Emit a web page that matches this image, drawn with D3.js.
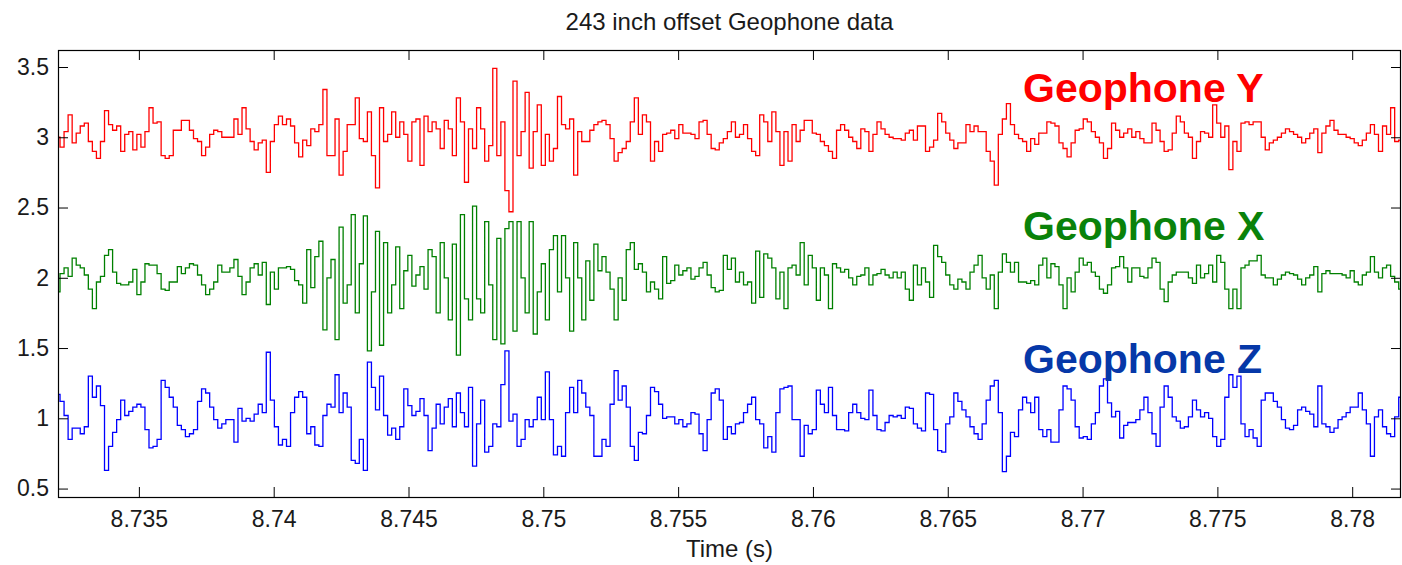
<!DOCTYPE html>
<html>
<head>
<meta charset="utf-8">
<script src="https://cdn.jsdelivr.net/npm/d3@7"></script>
<style>
  html, body { margin: 0; padding: 0; background: #ffffff; }
  svg { display: block; }
  text { font-family: "Liberation Sans", Arial, sans-serif; }
</style>
</head>
<body>
<svg id="chart" width="1402" height="565"></svg>
<script>
// ---------------- data ----------------
const chartTitle = "243 inch offset Geophone data";
const xAxisLabel = "Time (s)";
const xTickValues = [8.735, 8.74, 8.745, 8.75, 8.755, 8.76, 8.765, 8.77, 8.775, 8.78];
const yTickValues = [0.5, 1, 1.5, 2, 2.5, 3, 3.5];
const xDomain = [8.7320, 8.78181];
const yDomain = [0.44, 3.621];
const sampleStart = 8.7320;   // s
const sampleStep = 0.00015;   // s
const seriesNames = ["Geophone Y", "Geophone X", "Geophone Z"];

const geophoneY = [
3.00,2.93,3.04,3.16,2.96,3.03,3.08,3.10,2.97,2.90,2.85,2.97,3.19,3.09,3.05,3.08,2.90,3.02,3.04,2.91,3.02,2.93,3.04,3.21,3.10,3.11,2.87,2.85,2.87,3.05,3.05,3.12,3.12,3.05,2.99,2.97,2.87,2.93,3.02,3.05,3.04,3.00,3.00,3.00,3.13,3.02,3.21,3.06,2.97,2.91,2.96,2.98,2.75,2.97,3.09,3.15,3.09,
3.13,3.08,2.96,2.86,2.98,2.94,3.06,3.04,3.09,3.34,2.87,2.87,3.13,2.73,2.90,3.09,3.09,3.28,2.99,2.97,3.18,2.87,2.64,3.21,2.97,3.02,3.18,3.00,3.11,3.02,2.83,3.11,3.13,2.80,3.15,3.04,3.11,3.06,2.92,3.12,3.06,2.87,3.28,3.11,2.68,3.06,2.92,3.21,3.06,2.83,2.94,3.49,2.87,3.11,2.62,
2.47,3.40,2.87,3.04,3.32,2.78,3.04,3.23,2.80,3.02,2.83,2.92,3.29,3.09,3.06,3.13,2.73,3.04,2.97,2.97,3.05,3.09,3.11,3.12,3.09,2.99,2.83,2.89,2.92,2.97,3.11,3.28,3.02,3.16,3.11,2.83,2.97,2.90,3.02,3.03,3.05,2.99,3.09,3.03,3.03,3.02,2.99,3.11,3.12,3.02,2.92,2.91,2.96,2.99,3.04,3.11,
3.00,3.02,3.09,2.99,2.90,2.87,3.16,3.11,2.97,3.18,3.04,2.80,3.04,2.83,3.09,2.97,3.05,3.12,3.12,3.03,3.02,2.97,2.94,2.90,2.85,3.05,3.09,3.05,3.00,2.97,2.92,3.06,3.04,2.90,3.02,3.11,3.06,3.02,3.00,2.99,2.99,2.98,3.03,3.05,2.98,3.08,3.08,2.90,2.93,2.98,3.17,3.11,3.03,2.98,2.92,2.96,
2.96,3.09,3.04,3.08,3.04,3.04,2.90,2.83,2.66,3.02,3.13,3.24,3.09,3.02,2.99,2.97,2.90,2.99,2.95,3.03,3.03,3.11,3.10,3.08,2.96,2.92,2.86,2.96,3.05,3.06,3.13,3.11,3.04,3.00,2.96,2.85,2.92,3.10,3.05,3.00,3.03,3.06,3.00,3.04,2.99,2.96,2.96,3.10,3.05,2.97,2.90,2.91,3.03,3.15,3.11,
3.03,3.00,2.85,2.97,3.04,3.03,3.00,3.23,3.10,3.00,3.08,2.77,2.97,2.90,3.10,3.11,3.09,3.11,3.11,3.00,2.91,2.96,2.98,3.00,3.03,3.06,3.04,3.02,3.00,2.96,2.99,3.03,3.06,2.89,3.03,3.08,3.12,3.05,3.02,3.02,3.00,2.99,2.96,2.94,2.98,3.03,3.09,3.02,2.90,3.08,3.02,3.21,2.97,2.98
];

const geophoneX = [
1.90,2.03,2.07,2.01,2.14,2.09,2.07,2.02,1.92,1.78,1.97,2.01,2.16,2.20,2.04,1.96,1.95,1.95,1.97,2.06,1.88,1.97,2.10,2.09,2.09,2.03,1.92,1.91,1.97,1.97,2.08,2.03,2.07,2.10,2.09,2.02,1.95,1.88,1.92,1.97,2.09,2.04,2.04,2.07,2.13,2.01,1.88,1.97,2.07,2.10,2.02,2.11,1.81,2.04,1.92,2.07,2.07,
2.08,2.06,1.98,1.95,1.82,2.20,1.93,2.15,2.26,1.63,2.00,2.13,1.56,2.36,1.82,1.95,2.45,1.75,2.10,2.44,1.48,1.90,2.33,1.52,2.25,1.75,1.95,2.22,1.78,2.05,2.16,1.94,2.02,2.08,1.92,2.20,2.15,1.75,2.25,2.00,1.70,2.24,1.45,2.45,1.85,1.70,2.51,1.85,1.75,2.40,1.95,1.56,2.28,1.53,2.35,
2.40,1.62,2.40,2.00,1.75,2.40,1.60,1.90,2.10,1.70,2.20,2.30,1.90,2.30,2.00,1.62,2.25,2.00,1.70,2.12,1.84,2.24,2.05,2.15,2.04,1.92,1.70,2.00,1.84,2.20,2.25,2.06,2.10,2.04,1.90,1.97,1.92,1.85,2.15,1.96,1.98,2.09,2.02,2.05,2.07,1.99,2.01,2.07,2.11,2.02,1.93,1.90,1.91,2.16,2.06,2.14,
1.97,2.04,1.95,1.97,1.82,2.19,1.86,2.17,2.14,2.07,1.85,2.04,1.78,2.07,2.09,2.02,2.25,1.95,2.16,2.07,1.84,2.07,2.02,1.78,2.10,2.07,2.04,2.06,2.00,1.95,2.01,2.02,2.07,1.95,2.02,2.03,2.06,2.02,2.00,2.04,2.00,2.04,1.92,1.84,2.09,1.95,2.07,1.97,1.86,2.23,2.15,2.11,2.02,1.95,1.92,1.99,
1.97,1.92,2.04,2.09,2.16,2.00,1.92,2.02,1.78,2.04,2.17,2.11,2.04,2.11,1.97,1.97,1.96,1.98,1.95,2.09,2.14,2.00,2.10,2.08,1.95,1.78,2.00,1.90,2.04,2.14,2.09,2.11,2.04,2.01,1.92,1.89,1.95,2.07,2.08,2.15,2.07,1.97,2.07,2.07,2.01,2.00,2.07,2.14,2.11,1.92,1.83,1.97,2.02,2.04,2.04,
2.04,2.00,1.96,2.09,2.00,2.03,2.09,1.97,2.16,2.11,1.92,1.78,1.92,1.78,2.07,2.09,2.12,2.12,2.16,2.02,2.00,2.00,1.95,1.99,2.02,2.04,2.03,2.02,1.99,1.95,2.00,2.02,2.08,1.90,2.03,2.05,2.03,2.03,2.03,2.02,2.00,2.05,1.97,1.95,2.02,2.04,2.15,2.04,2.00,2.07,2.09,2.01,1.97,1.92
];

const geophoneZ = [
1.17,1.12,1.02,0.85,0.93,0.93,0.89,0.94,1.30,1.15,1.23,1.09,0.63,0.80,0.90,0.99,1.13,1.02,1.05,1.08,1.10,1.08,0.92,0.79,0.80,0.85,1.27,1.22,1.15,1.08,0.95,0.92,0.87,0.89,0.92,1.12,1.21,1.18,1.08,0.99,0.93,0.96,0.99,0.99,0.83,1.07,0.98,1.00,0.98,1.03,1.10,1.04,1.47,1.13,0.94,0.81,0.85,
0.80,1.04,1.15,1.19,1.15,0.89,0.94,0.81,0.80,1.02,1.10,1.08,1.31,1.04,1.18,1.08,0.70,0.68,0.85,0.63,1.40,1.22,1.06,1.30,1.02,0.88,0.93,0.85,0.94,1.21,1.09,1.02,1.05,1.14,1.02,0.77,0.93,1.10,0.96,1.08,1.14,0.94,1.18,1.04,0.94,1.22,0.66,0.96,1.13,0.76,0.80,0.96,0.94,1.24,1.48,
0.98,1.03,0.80,0.85,0.99,0.94,0.99,1.15,0.99,1.33,0.99,0.74,0.80,0.73,1.04,1.22,1.04,1.27,1.18,1.08,1.02,0.73,0.73,0.85,0.80,1.10,1.34,1.13,1.23,1.08,0.80,0.70,0.90,0.89,1.02,1.22,1.19,1.10,1.00,1.01,1.01,0.96,0.99,0.94,0.96,1.04,1.03,0.89,0.77,0.99,1.18,1.21,1.13,0.85,0.94,0.89,
0.96,0.97,1.04,1.10,1.15,0.99,0.96,0.79,0.87,0.76,1.04,1.21,1.22,1.23,0.99,0.99,0.73,0.95,0.89,0.92,1.20,1.10,1.04,1.22,1.02,0.92,0.92,0.91,1.04,1.10,1.04,1.00,0.99,1.20,1.02,0.92,0.91,0.97,1.02,1.01,1.02,1.00,1.08,1.07,0.96,0.93,0.91,1.18,1.17,0.92,0.77,0.76,0.96,1.01,1.18,1.12,
1.06,1.01,0.94,0.89,0.85,0.96,1.13,1.23,1.27,1.04,0.62,0.73,0.90,0.87,1.06,1.15,1.11,1.04,1.15,0.92,0.87,0.92,0.83,0.83,1.06,1.23,1.21,1.13,0.94,0.86,0.87,0.85,0.96,1.04,1.23,1.28,1.11,1.01,1.05,0.86,0.95,0.97,0.97,0.99,1.06,1.15,1.04,0.89,0.80,1.08,1.23,1.15,1.01,0.98,0.93,
0.94,1.01,1.13,1.06,1.01,1.04,1.00,0.87,0.80,0.85,1.15,1.31,1.22,1.30,0.96,0.87,0.92,0.86,0.80,1.13,1.18,1.18,1.12,1.08,0.99,0.93,0.92,0.95,1.06,1.08,1.05,1.03,0.94,1.23,0.96,0.94,0.90,0.93,0.99,1.01,1.04,1.08,1.08,1.18,1.06,0.96,0.73,1.01,1.06,0.94,0.89,0.87,1.01,1.15
];

const seriesValues = [geophoneY, geophoneX, geophoneZ];
const lineColors = ["#ff0000", "#008000", "#0000ff"];
const labelColors = ["#ff0000", "#0a820a", "#0638a8"];

// ---------------- layout ----------------
const W = 1402, H = 565;
const plot = { left: 58, right: 1401, top: 50, bottom: 497 };
const fontPx = 23;
const titlePx = 24;

const svg = d3.select("#chart");
const x = d3.scaleLinear().domain(xDomain).range([plot.left, plot.right]);
const y = d3.scaleLinear().domain(yDomain).range([plot.bottom, plot.top]);

svg.append("defs").append("clipPath").attr("id", "clip")
  .append("rect")
  .attr("x", plot.left).attr("y", plot.top)
  .attr("width", plot.right - plot.left).attr("height", plot.bottom - plot.top);

// lines
const line = d3.line()
  .x((d, i) => x(sampleStart + i * sampleStep))
  .y(d => y(d))
  .curve(d3.curveStep);

const g = svg.append("g").attr("clip-path", "url(#clip)");
seriesValues.forEach((vals, k) => {
  g.append("path")
    .datum(vals)
    .attr("fill", "none")
    .attr("stroke", lineColors[k])
    .attr("stroke-width", 1.3)
    .attr("stroke-linejoin", "miter")
    .attr("d", line);
});

// axes (ticks inward on all four sides, MATLAB style)
const tickLen = 10;
const fmt = v => String(v);
const axisStyle = sel => {
  sel.select(".domain").remove();
  sel.selectAll(".tick line").attr("stroke", "#000").attr("stroke-width", 1);
  sel.selectAll(".tick text")
    .attr("fill", "#1a1a1a")
    .style("font-size", fontPx + "px")
    .style("font-family", "'Liberation Sans', Arial, sans-serif");
};

svg.append("g")
  .attr("transform", `translate(0,${plot.bottom})`)
  .call(d3.axisBottom(x).tickValues(xTickValues).tickFormat(fmt).tickSizeInner(-tickLen).tickSizeOuter(0).tickPadding(14))
  .call(axisStyle);

svg.append("g")
  .attr("transform", `translate(0,${plot.top})`)
  .call(d3.axisTop(x).tickValues(xTickValues).tickFormat("").tickSizeInner(-tickLen).tickSizeOuter(0))
  .call(axisStyle);

svg.append("g")
  .attr("transform", `translate(${plot.left},0)`)
  .call(d3.axisLeft(y).tickValues(yTickValues).tickFormat(fmt).tickSizeInner(-tickLen).tickSizeOuter(0).tickPadding(9))
  .call(axisStyle);

svg.append("g")
  .attr("transform", `translate(${plot.right},0)`)
  .call(d3.axisRight(y).tickValues(yTickValues).tickFormat("").tickSizeInner(-tickLen).tickSizeOuter(0))
  .call(axisStyle);

// frame
svg.append("rect")
  .attr("x", plot.left + 0.5).attr("y", plot.top + 0.5)
  .attr("width", plot.right - plot.left - 1).attr("height", plot.bottom - plot.top)
  .attr("fill", "none").attr("stroke", "#000").attr("stroke-width", 1.2);

// title + axis label
svg.append("text")
  .attr("x", (plot.left + plot.right) / 2).attr("y", 30)
  .attr("text-anchor", "middle")
  .attr("fill", "#1a1a1a")
  .style("font-size", titlePx + "px")
  .text(chartTitle);

svg.append("text")
  .attr("x", (plot.left + plot.right) / 2).attr("y", 557)
  .attr("text-anchor", "middle")
  .attr("fill", "#1a1a1a")
  .style("font-size", titlePx + "px")
  .text(xAxisLabel);

// series labels
const labelBaselines = [102, 240, 373];
seriesNames.forEach((name, k) => {
  svg.append("text")
    .attr("x", 1023).attr("y", labelBaselines[k])
    .attr("fill", labelColors[k])
    .style("font-size", "41px")
    .style("font-weight", "bold")
    .text(name);
});
</script>
</body>
</html>
